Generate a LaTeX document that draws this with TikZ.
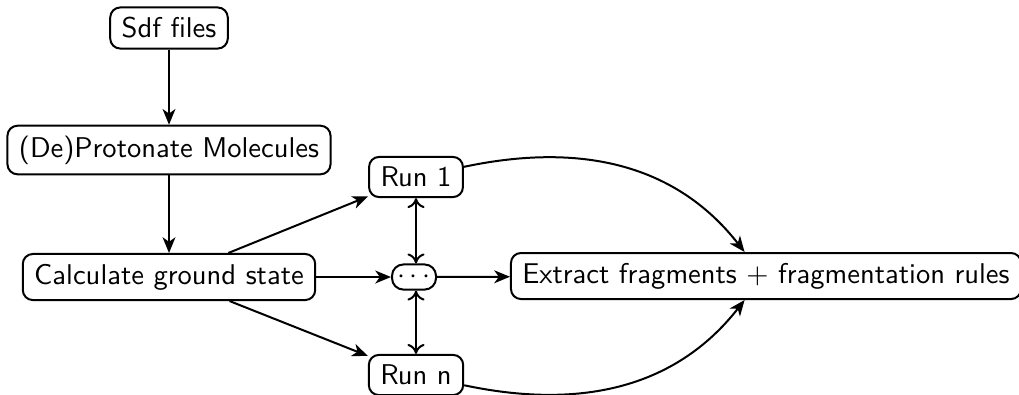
\documentclass[tikz,border=0pt]{standalone}
\usetikzlibrary{arrows.meta}
\begin{document}
\begin{tikzpicture}[x=0.35pt,y=-0.35pt,
  font=\sffamily,
  line width=0.7pt,
  box/.style={draw, rounded corners=3.5pt, inner xsep=4pt, inner ysep=3.5pt},
  dotbox/.style={draw, rounded corners=4pt, inner sep=0pt, minimum width=15.4pt, minimum height=8.8pt},
  arr/.style={-{Stealth[length=5.5pt,width=4.5pt,inset=1.6pt]}},
  darr/.style={{To[length=3.5pt,width=6pt]}-{To[length=3.5pt,width=6pt]}}]
\useasboundingbox (0,0) rectangle (1019,394);
\node[box] (sdf) at (169,28) {Sdf files};
\node[box] (prot) at (169,150) {(De)Protonate Molecules};
\node[box] (calc) at (169,277) {Calculate ground state};
\node[box] (run1) at (416,177) {Run 1};
\node[dotbox] (dots) at (414,277) {$\cdots$};
\node[box] (runn) at (416,375) {Run n};
\node[box] (ext) at (766,276) {Extract fragments + fragmentation rules};
\draw[arr] (sdf) -- (prot);
\draw[arr] (prot) -- (calc);
\draw[arr] (calc) -- (run1);
\draw[arr] (calc) -- (runn);
\draw[arr] (calc) -- (dots);
\draw[arr] (dots) -- (ext);
\draw[darr] (run1) -- (run1 |- dots.north);
\draw[darr] (runn) -- (runn |- dots.south);
\draw[arr] (run1) to[out=12,in=128] ([xshift=-7.5pt]ext.north);
\draw[arr] (runn) to[out=-12,in=-128] ([xshift=-7.5pt]ext.south);
\end{tikzpicture}
\end{document}
